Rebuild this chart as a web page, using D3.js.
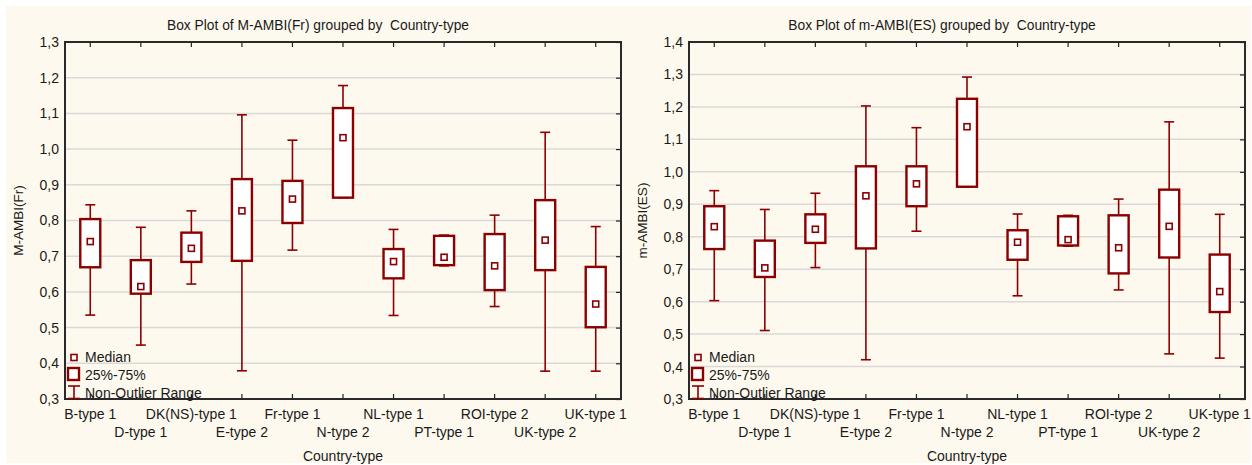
<!DOCTYPE html>
<html>
<head>
<meta charset="utf-8">
<script src="https://cdn.jsdelivr.net/npm/d3@7"></script>
<style>
  html, body { margin: 0; padding: 0; background: #ffffff; }
  svg { display: block; }
  text { font-family: "Liberation Sans", Arial, sans-serif; fill: #1a1a1a; white-space: pre; }
</style>
</head>
<body>
<svg id="chart" width="1252" height="465"></svg>
<script>
// Groups shown on the x axis of both panels
const categories = ["B-type 1", "D-type 1", "DK(NS)-type 1", "E-type 2", "Fr-type 1",
  "N-type 2", "NL-type 1", "PT-type 1", "ROI-type 2", "UK-type 2", "UK-type 1"];

// M-AMBI(Fr): whisker low, Q1, median, Q3, whisker high per group
const frLow    = [0.535, 0.451, 0.622, 0.379, 0.717, 0.864, 0.534, 0.673, 0.559, 0.378, 0.378];
const frQ1     = [0.669, 0.595, 0.684, 0.687, 0.793, 0.864, 0.638, 0.675, 0.605, 0.661, 0.501];
const frMedian = [0.741, 0.615, 0.722, 0.827, 0.860, 1.032, 0.685, 0.697, 0.673, 0.745, 0.566];
const frQ3     = [0.804, 0.689, 0.766, 0.916, 0.911, 1.115, 0.720, 0.757, 0.762, 0.857, 0.670];
const frHigh   = [0.844, 0.781, 0.827, 1.096, 1.025, 1.178, 0.775, 0.759, 0.815, 1.047, 0.783];

// m-AMBI(ES): whisker low, Q1, median, Q3, whisker high per group
const esLow    = [0.603, 0.511, 0.705, 0.421, 0.817, 0.954, 0.618, 0.771, 0.636, 0.439, 0.426];
const esQ1     = [0.762, 0.676, 0.781, 0.764, 0.894, 0.954, 0.729, 0.773, 0.687, 0.736, 0.568];
const esMedian = [0.831, 0.704, 0.823, 0.926, 0.963, 1.139, 0.783, 0.791, 0.766, 0.832, 0.631];
const esQ3     = [0.894, 0.788, 0.869, 1.017, 1.017, 1.225, 0.820, 0.863, 0.866, 0.945, 0.745];
const esHigh   = [0.942, 0.884, 0.934, 1.203, 1.136, 1.292, 0.870, 0.866, 0.916, 1.154, 0.869];

// Y axis tick values
const frTicks = [0.3, 0.4, 0.5, 0.6, 0.7, 0.8, 0.9, 1.0, 1.1, 1.2, 1.3];
const esTicks = [0.3, 0.4, 0.5, 0.6, 0.7, 0.8, 0.9, 1.0, 1.1, 1.2, 1.3, 1.4];

// Legend entries
const legendLabels = ["Median", "25%-75%", "Non-Outlier Range"];

const RED = "#8b0000";
const FS = "14px";
const svg = d3.select("#chart");

// cream page background
svg.append("rect").attr("x", 6).attr("y", 6).attr("width", 1245).attr("height", 457)
  .attr("fill", "#fef9ee");

const fmt = v => d3.format(".1f")(v).replace(".", ",");

function panel(opts) {
  const { left, right, top, bottom, domain, ticks, title, titleX, yLabel,
          low, q1, med, q3, high } = opts;
  const g = svg.append("g");

  const x = d3.scaleBand().domain(categories).range([left, right]).padding(0);
  const y = d3.scaleLinear().domain(domain).range([bottom, top]);

  // gridlines
  g.append("g").selectAll("line").data(ticks.slice(1, -1)).join("line")
    .attr("x1", left).attr("x2", right)
    .attr("y1", d => y(d)).attr("y2", d => y(d))
    .attr("stroke", "#d9d9d9").attr("stroke-width", 1.5);

  // left axis with labels
  const ay = g.append("g").attr("transform", `translate(${left},0)`)
    .call(d3.axisLeft(y).tickValues(ticks).tickFormat(fmt).tickSize(0).tickPadding(6));
  ay.select(".domain").remove();
  ay.selectAll("text").style("font-size", FS).attr("fill", "#1a1a1a");

  // right axis, inward ticks
  const ar = g.append("g").attr("transform", `translate(${right},0)`)
    .call(d3.axisLeft(y).tickValues(ticks).tickFormat("").tickSizeInner(5).tickSizeOuter(0));
  ar.select(".domain").remove();
  ar.selectAll("line").attr("stroke", "#222").attr("stroke-width", 1.2);

  // top axis, inward ticks
  const at = g.append("g").attr("transform", `translate(0,${top})`)
    .call(d3.axisBottom(x).tickFormat("").tickSizeInner(5).tickSizeOuter(0));
  at.select(".domain").remove();
  at.selectAll("line").attr("stroke", "#222").attr("stroke-width", 1.2);

  // bottom axis, inward ticks
  const ab = g.append("g").attr("transform", `translate(0,${bottom})`)
    .call(d3.axisTop(x).tickFormat("").tickSizeInner(5).tickSizeOuter(0));
  ab.select(".domain").remove();
  ab.selectAll("line").attr("stroke", "#222").attr("stroke-width", 1.2);

  // plot frame
  g.append("rect").attr("x", left).attr("y", top)
    .attr("width", right - left).attr("height", bottom - top)
    .attr("fill", "none").attr("stroke", "#2a2a2a").attr("stroke-width", 2);

  // staggered category labels
  g.append("g").selectAll("text").data(categories).join("text")
    .attr("x", d => x(d) + x.bandwidth() / 2)
    .attr("y", (d, i) => bottom + (i % 2 === 0 ? 20 : 37.5))
    .attr("text-anchor", "middle").style("font-size", FS)
    .text(d => d);

  // titles
  g.append("text").attr("x", titleX).attr("y", 30).attr("text-anchor", "middle")
    .style("font-size", "13.8px").text(title);
  g.append("text").attr("x", (left + right) / 2).attr("y", 461).attr("text-anchor", "middle")
    .style("font-size", FS).text("Country-type");
  g.append("text")
    .attr("transform", `translate(${left - 42},${(top + bottom) / 2}) rotate(-90)`)
    .attr("text-anchor", "middle").style("font-size", "13.5px").text(yLabel);

  // boxes
  const boxW = 20, capW = 10, mk = 6;
  const rows = categories.map((c, i) => ({ c, lo: low[i], q1: q1[i], md: med[i], q3: q3[i], hi: high[i] }));
  const bg = g.append("g");
  const cx = d => x(d.c) + x.bandwidth() / 2;

  bg.selectAll(".whiskerHi").data(rows).join("line")
    .attr("x1", cx).attr("x2", cx).attr("y1", d => y(d.q3)).attr("y2", d => y(d.hi))
    .attr("stroke", RED).attr("stroke-width", 1.6);
  bg.selectAll(".whiskerLo").data(rows).join("line")
    .attr("x1", cx).attr("x2", cx).attr("y1", d => y(d.q1)).attr("y2", d => y(d.lo))
    .attr("stroke", RED).attr("stroke-width", 1.6);
  bg.selectAll(".capHi").data(rows).join("line")
    .attr("x1", d => cx(d) - capW / 2).attr("x2", d => cx(d) + capW / 2)
    .attr("y1", d => y(d.hi)).attr("y2", d => y(d.hi))
    .attr("stroke", RED).attr("stroke-width", 1.6);
  bg.selectAll(".capLo").data(rows).join("line")
    .attr("x1", d => cx(d) - capW / 2).attr("x2", d => cx(d) + capW / 2)
    .attr("y1", d => y(d.lo)).attr("y2", d => y(d.lo))
    .attr("stroke", RED).attr("stroke-width", 1.6);
  bg.selectAll(".box").data(rows).join("rect")
    .attr("x", d => cx(d) - boxW / 2).attr("width", boxW)
    .attr("y", d => y(d.q3)).attr("height", d => y(d.q1) - y(d.q3))
    .attr("fill", "#ffffff").attr("stroke", RED).attr("stroke-width", 2.4);
  bg.selectAll(".med").data(rows).join("rect")
    .attr("x", d => cx(d) - mk / 2).attr("y", d => y(d.md) - mk / 2)
    .attr("width", mk).attr("height", mk)
    .attr("fill", "#ffffff").attr("stroke", RED).attr("stroke-width", 1.6);

  // legend
  const lx = left + 9, lg = g.append("g");
  lg.append("rect").attr("x", lx - 3).attr("y", bottom - 44.5).attr("width", 6).attr("height", 6)
    .attr("fill", "#fff").attr("stroke", RED).attr("stroke-width", 1.6);
  lg.append("rect").attr("x", lx - 6).attr("y", bottom - 31).attr("width", 11).attr("height", 12)
    .attr("fill", "#fff").attr("stroke", RED).attr("stroke-width", 2.4);
  lg.append("line").attr("x1", lx).attr("x2", lx).attr("y1", bottom - 13).attr("y2", bottom)
    .attr("stroke", RED).attr("stroke-width", 1.6);
  lg.append("line").attr("x1", lx - 6).attr("x2", lx + 6).attr("y1", bottom - 13).attr("y2", bottom - 13)
    .attr("stroke", RED).attr("stroke-width", 1.6);
  lg.append("line").attr("x1", lx - 6).attr("x2", lx + 6).attr("y1", bottom - 0.5).attr("y2", bottom - 0.5)
    .attr("stroke", RED).attr("stroke-width", 1.6);
  lg.selectAll(".lt").data(legendLabels).join("text")
    .attr("x", lx + 11).attr("y", (d, i) => bottom - 41.5 + i * 17.6)
    .attr("dy", "0.35em").style("font-size", FS).text(d => d);
}

panel({ left: 65, right: 621, top: 42, bottom: 399, domain: [0.3, 1.3], ticks: frTicks,
  title: "Box Plot of M-AMBI(Fr) grouped by  Country-type", titleX: 318, yLabel: "M-AMBI(Fr)",
  low: frLow, q1: frQ1, med: frMedian, q3: frQ3, high: frHigh });

panel({ left: 689, right: 1245, top: 42, bottom: 399, domain: [0.3, 1.4], ticks: esTicks,
  title: "Box Plot of m-AMBI(ES) grouped by  Country-type", titleX: 942, yLabel: "m-AMBI(ES)",
  low: esLow, q1: esQ1, med: esMedian, q3: esQ3, high: esHigh });
</script>
</body>
</html>
